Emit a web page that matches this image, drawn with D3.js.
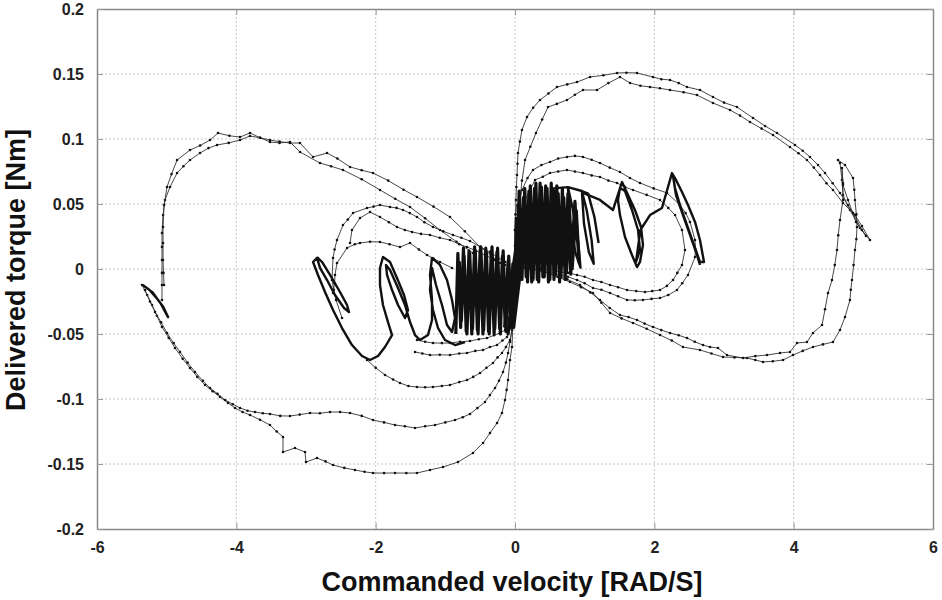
<!DOCTYPE html>
<html><head><meta charset="utf-8">
<script src="https://cdn.jsdelivr.net/npm/d3@7"></script>
<style>body{margin:0;background:#fff}</style>
</head><body><svg id="c" width="942" height="600"></svg>
<script>
const xTicks=[-6,-4,-2,0,2,4,6];
const xTickLabels=["-6","-4","-2","0","2","4","6"];
const yTicks=[-0.2,-0.15,-0.1,-0.05,0,0.05,0.1,0.15,0.2];
const yTickLabels=["-0.2","-0.15","-0.1","-0.05","0","0.05","0.1","0.15","0.2"];
const xTitle="Commanded velocity [RAD/S]";
const yTitle="Delivered torque [Nm]";

// upper-left big loop, two passes
const upperLeftA=[[-0.215,0.0046],[-0.35,0.011],[-0.502,0.0169],[-0.72,0.029],[-0.933,0.040],[-1.17,0.048],[-1.407,0.0554],[-1.6,0.061],[-1.82,0.068],[-2.038,0.0738],[-2.2,0.076],[-2.368,0.0785],[-2.55,0.085],[-2.698,0.0892],[-2.899,0.0862],[-3.086,0.0969],[-3.23,0.0969],[-3.38,0.098],[-3.517,0.0992],[-3.66,0.101],[-3.804,0.1023],[-3.947,0.0992],[-4.11,0.097],[-4.277,0.0954],[-4.4,0.093],[-4.521,0.0892],[-4.665,0.0838],[-4.76,0.079],[-4.851,0.0738],[-4.952,0.0631],[-5.024,0.0531],[-5.052,0.0415],[-5.067,0.0277],[-5.067,0.017],[-5.067,0.0069],[-5.067,-0.003],[-5.067,-0.0123],[-5.067,-0.0238]];
const upperLeftB=[[-0.603,0.0123],[-0.84,0.021],[-1.077,0.030],[-1.29,0.039],[-1.507,0.0477],[-1.72,0.054],[-1.938,0.0608],[-2.2,0.069],[-2.469,0.0762],[-2.64,0.079],[-2.799,0.0815],[-3.086,0.090],[-3.23,0.0977],[-3.38,0.097],[-3.517,0.0977],[-3.66,0.101],[-3.804,0.1046],[-3.947,0.1015],[-4.1,0.1025],[-4.263,0.1046],[-4.378,0.0992],[-4.52,0.095],[-4.665,0.0915],[-4.851,0.0838],[-4.93,0.073],[-4.995,0.0631],[-5.038,0.0492],[-5.052,0.0323],[-5.052,0.02],[-5.052,0.0069],[-5.045,-0.003],[-5.038,-0.0123]];
const leftTail=[[-5.35,-0.012],[-5.25,-0.016],[-5.15,-0.022],[-5.05,-0.029],[-4.98,-0.037],[-5.08,-0.027],[-5.2,-0.018],[-5.33,-0.013]];
// lower-left curves returning to the centre
const lowerLeft1=[[-5.354,-0.0123],[-5.28,-0.02],[-5.21,-0.0277],[-5.14,-0.036],[-5.067,-0.0446],[-4.97,-0.053],[-4.88,-0.0608],[-4.77,-0.069],[-4.665,-0.0762],[-4.56,-0.083],[-4.45,-0.0892],[-4.34,-0.094],[-4.234,-0.0985],[-4.12,-0.103],[-4.019,-0.1069],[-3.91,-0.11],[-3.804,-0.1123],[-3.66,-0.116],[-3.517,-0.12],[-3.42,-0.125],[-3.33,-0.1292],[-3.33,-0.1408],[-3.158,-0.1377],[-3.014,-0.1408],[-3.0,-0.1485],[-2.842,-0.1454],[-2.72,-0.148],[-2.612,-0.1508],[-2.45,-0.153],[-2.297,-0.1546],[-2.16,-0.156],[-2.038,-0.1569],[-1.88,-0.157],[-1.722,-0.1569],[-1.56,-0.157],[-1.407,-0.1569],[-1.22,-0.1546],[-1.033,-0.1523],[-0.818,-0.1485],[-0.603,-0.1415],[-0.459,-0.1338],[-0.359,-0.1262],[-0.258,-0.1185],[-0.187,-0.1108],[-0.144,-0.1008],[-0.12,-0.093],[-0.10,-0.0854],[-0.072,-0.07],[-0.043,-0.06],[-0.029,-0.0415],[-0.014,-0.0238],[0,-0.0085]];
const lowerLeft2=[[-5.311,-0.0162],[-5.24,-0.025],[-5.167,-0.0331],[-5.08,-0.041],[-4.995,-0.0492],[-4.9,-0.057],[-4.808,-0.0638],[-4.7,-0.072],[-4.593,-0.0792],[-4.48,-0.086],[-4.378,-0.0915],[-4.27,-0.096],[-4.162,-0.1008],[-4.05,-0.104],[-3.947,-0.1069],[-3.84,-0.109],[-3.732,-0.11],[-3.62,-0.111],[-3.517,-0.1115],[-3.37,-0.113],[-3.23,-0.1131],[-3.09,-0.112],[-2.942,-0.1108],[-2.8,-0.111],[-2.655,-0.11],[-2.51,-0.110],[-2.368,-0.1108],[-2.2,-0.113],[-2.038,-0.1162],[-1.88,-0.118],[-1.722,-0.12],[-1.58,-0.121],[-1.435,-0.1223],[-1.29,-0.121],[-1.148,-0.12],[-1.0,-0.118],[-0.861,-0.1162],[-0.75,-0.114],[-0.646,-0.1115],[-0.54,-0.107],[-0.431,-0.1023],[-0.36,-0.097],[-0.287,-0.0915],[-0.23,-0.086],[-0.172,-0.0792],[-0.13,-0.072],[-0.10,-0.0646],[-0.07,-0.056],[-0.043,-0.0469],[-0.014,-0.0277],[0,-0.0123]];
const lowerLeft3=[[-2.124,-0.07],[-2.0,-0.076],[-1.866,-0.0815],[-1.75,-0.085],[-1.651,-0.0877],[-1.53,-0.09],[-1.407,-0.0908],[-1.29,-0.091],[-1.177,-0.0908],[-1.05,-0.09],[-0.933,-0.0892],[-0.8,-0.087],[-0.689,-0.0854],[-0.6,-0.083],[-0.502,-0.08],[-0.41,-0.076],[-0.316,-0.0723],[-0.25,-0.068],[-0.187,-0.0646],[-0.13,-0.06],[-0.072,-0.0546],[-0.029,-0.0431],[0,-0.0238]];
const lowerLeft4=[[-1.435,-0.0638],[-1.33,-0.065],[-1.22,-0.0662],[-1.08,-0.066],[-0.933,-0.0662],[-0.8,-0.065],[-0.689,-0.0646],[-0.57,-0.063],[-0.459,-0.0623],[-0.36,-0.06],[-0.258,-0.0585],[-0.18,-0.055],[-0.115,-0.0523],[-0.043,-0.0431]];
const lowerLeft5=[[-1.407,-0.0546],[-1.29,-0.056],[-1.177,-0.0569],[-1.05,-0.057],[-0.933,-0.0569],[-0.79,-0.056],[-0.646,-0.0554],[-0.52,-0.054],[-0.402,-0.0531],[-0.3,-0.051],[-0.215,-0.0492],[-0.14,-0.047],[-0.072,-0.0446],[-0.029,-0.0354]];
// dotted rings around the left cluster
const leftRing1=[[-0.144,0.0054],[-0.25,0.009],[-0.359,0.0131],[-0.5,0.017],[-0.646,0.0215],[-0.77,0.024],[-0.89,0.0262],[-1.03,0.029],[-1.177,0.0323],[-1.3,0.036],[-1.407,0.040],[-1.51,0.043],[-1.608,0.0454],[-1.7,0.047],[-1.794,0.0477],[-1.938,0.0492],[-2.03,0.048],[-2.124,0.0469],[-2.325,0.0431],[-2.4,0.038],[-2.469,0.0338],[-2.555,0.0223],[-2.59,0.015],[-2.612,0.0085],[-2.627,-0.0085],[-2.6,-0.016],[-2.569,-0.0238],[-2.483,-0.0377]];
const leftRing2=[[-2.612,-0.0185],[-2.59,-0.011],[-2.584,-0.0046],[-2.555,0.0046],[-2.411,0.0162],[-2.3,0.019],[-2.225,0.020],[-2.08,0.021],[-1.938,0.0208],[-1.8,0.019],[-1.651,0.0169],[-1.507,0.020],[-1.38,0.015],[-1.263,0.0108],[-1.17,0.008],[-1.077,0.0054],[-0.904,0.0008]];
const leftRing3=[[-2.368,0.020],[-2.34,0.030],[-2.225,0.0392],[-2.081,0.0438],[-1.938,0.040],[-1.81,0.036],[-1.694,0.0323],[-1.58,0.030],[-1.478,0.0285],[-1.35,0.027],[-1.22,0.0262],[-1.08,0.024],[-0.933,0.0223],[-0.8,0.019],[-0.689,0.0169],[-0.56,0.014],[-0.431,0.0108],[-0.29,0.007],[-0.144,0.0031]];
// solid small loops on the left
const leftLoops=[[-2.842,0.0092],[-2.77,0.0054],[-2.655,-0.0046],[-2.512,-0.0177],[-2.411,-0.0277],[-2.383,-0.0331],[-2.454,-0.03],[-2.584,-0.02],[-2.698,-0.0085],[-2.799,0.0008],[-2.842,0.0085],[-2.899,0.0054],[-2.828,-0.0046],[-2.727,-0.0177],[-2.612,-0.0315],[-2.483,-0.0454],[-2.34,-0.0585],[-2.196,-0.0669],[-2.081,-0.07],[-1.966,-0.0669],[-1.866,-0.06],[-1.765,-0.0508],[-1.823,-0.0408],[-1.895,-0.0277],[-1.938,-0.0123],[-1.938,0.0008],[-1.895,0.0092],[-1.794,0.0054],[-1.694,-0.0069],[-1.593,-0.02],[-1.536,-0.0315],[-1.579,-0.0377],[-1.679,-0.0277],[-1.765,-0.0162],[-1.837,-0.0046],[-1.852,0.0031],[-1.794,-0.0008],[-1.679,-0.0146],[-1.579,-0.0277],[-1.507,-0.0408],[-1.435,-0.0508],[-1.364,-0.0546],[-1.249,-0.0508],[-1.191,-0.0392],[-1.191,-0.0238],[-1.22,-0.0046],[-1.191,0.0085],[-1.077,0.0031],[-0.976,-0.0085],[-0.904,-0.0238],[-0.861,-0.0377],[-0.904,-0.0485],[-0.976,-0.0431],[-1.048,-0.0277],[-1.134,-0.0123],[-1.191,0.0008],[-1.22,-0.0162],[-1.177,-0.0315],[-1.105,-0.0454],[-1.005,-0.0546],[-0.861,-0.0585],[-0.718,-0.0562]];
// dense oscillation clusters
const leftBlob=[[-0.85,-0.05],[-0.82,0.012],[-0.78,-0.045],[-0.74,0.016],[-0.70,-0.048],[-0.66,0.014],[-0.62,-0.05],[-0.58,0.017],[-0.54,-0.047],[-0.50,0.015],[-0.46,-0.05],[-0.42,0.016],[-0.38,-0.048],[-0.34,0.014],[-0.30,-0.05],[-0.26,0.013],[-0.22,-0.046],[-0.18,0.01],[-0.14,-0.044],[-0.10,0.006],[-0.06,-0.04],[-0.03,0.004],[-0.01,-0.03],[-0.05,-0.045],[-0.09,0.01],[-0.13,-0.048],[-0.17,0.014],[-0.21,-0.05],[-0.25,0.016],[-0.29,-0.046],[-0.33,0.017],[-0.37,-0.05],[-0.41,0.013],[-0.45,-0.047],[-0.49,0.017],[-0.53,-0.05],[-0.57,0.014],[-0.61,-0.046],[-0.65,0.012],[-0.69,-0.05],[-0.73,0.01],[-0.77,-0.04],[-0.80,0.006]];
const centreBlob=[[-0.15,-0.045],[0.05,0.03],[-0.1,-0.05],[0.1,0.035],[-0.05,-0.04],[0.15,0.03],[-0.02,-0.045],[0.02,0.04]];
const rightBlob=[[0.02,-0.005],[0.06,0.06],[0.1,-0.008],[0.14,0.062],[0.18,-0.01],[0.22,0.064],[0.26,-0.008],[0.3,0.066],[0.34,-0.01],[0.38,0.063],[0.42,-0.006],[0.46,0.062],[0.5,-0.008],[0.54,0.06],[0.58,-0.004],[0.62,0.058],[0.66,-0.006],[0.70,0.055],[0.74,-0.002],[0.78,0.05],[0.82,0.0],[0.88,0.045],[0.92,0.005],[0.86,0.052],[0.80,-0.004],[0.76,0.058],[0.72,-0.008],[0.68,0.062],[0.64,-0.01],[0.60,0.064],[0.56,-0.008],[0.52,0.066],[0.48,-0.01],[0.44,0.064],[0.40,-0.006],[0.36,0.066],[0.32,-0.008],[0.28,0.062],[0.24,-0.01],[0.2,0.06],[0.16,-0.006],[0.12,0.055],[0.08,-0.004],[0.04,0.05]];
const rightBlobLoops=[[0.55,0.062],[0.62,0.046],[0.7,0.02],[0.73,0.0],[0.66,0.01],[0.58,0.035],[0.55,0.062],[0.76,0.063],[0.83,0.046],[0.91,0.02],[0.94,0.001],[0.87,0.012],[0.79,0.036],[0.76,0.063],[0.96,0.06],[1.03,0.045],[1.1,0.022],[1.13,0.004],[1.06,0.013],[0.99,0.035],[0.96,0.06],[1.05,0.058],[1.14,0.04],[1.2,0.02]];
// solid loops on the right
const rightLoops=[[0.976,0.0585],[1.22,0.0531],[1.407,0.0454],[1.536,0.0669],[1.622,0.0569],[1.722,0.0454],[1.809,0.0323],[1.837,0.0185],[1.794,0.0054],[1.751,0.0015],[1.679,0.0108],[1.579,0.0246],[1.507,0.0415],[1.478,0.0531],[1.507,0.0623],[1.579,0.06],[1.679,0.0454],[1.766,0.03],[1.794,0.0146],[1.737,0.0054],[1.8,0.03],[1.938,0.0415],[2.11,0.0469],[2.253,0.0738],[2.311,0.0685],[2.397,0.0592],[2.483,0.0492],[2.584,0.0362],[2.655,0.0223],[2.713,0.0054],[2.655,0.0054],[2.569,0.0185],[2.469,0.0338],[2.368,0.0492],[2.297,0.0623],[2.268,0.0715],[2.311,0.0569],[2.411,0.0415],[2.512,0.0262],[2.612,0.0108],[2.655,0.0031]];
const rightRing1=[[0,0.030],[0.05,0.046],[0.10,0.0608],[0.18,0.07],[0.258,0.0762],[0.38,0.08],[0.502,0.0823],[0.62,0.085],[0.746,0.0862],[0.86,0.087],[0.976,0.0862],[1.1,0.084],[1.22,0.0815],[1.36,0.078],[1.507,0.0746],[1.65,0.07],[1.794,0.0662],[1.99,0.062],[2.182,0.0585],[2.368,0.0492],[2.45,0.043],[2.512,0.0362],[2.584,0.0223],[2.59,0.015],[2.584,0.0092],[2.483,-0.0046],[2.4,-0.011],[2.325,-0.0162],[2.2,-0.02],[2.081,-0.0223],[1.96,-0.023],[1.837,-0.0238],[1.72,-0.024],[1.608,-0.0238],[1.48,-0.021],[1.364,-0.0185],[1.24,-0.016],[1.12,-0.0146],[1.0,-0.011],[0.89,-0.0085],[0.76,-0.006],[0.646,-0.0046],[0.5,-0.002],[0.359,-0.0008],[0.072,0.0008]];
const rightRing2=[[0.029,0.0223],[0.08,0.038],[0.144,0.0531],[0.287,0.0685],[0.4,0.071],[0.502,0.0738],[0.62,0.075],[0.746,0.0762],[0.86,0.075],[0.976,0.0738],[1.1,0.072],[1.22,0.0708],[1.34,0.068],[1.464,0.0662],[1.58,0.063],[1.694,0.0608],[1.89,0.057],[2.081,0.0531],[2.2,0.047],[2.297,0.0415],[2.397,0.030],[2.44,0.0146],[2.397,0.0031],[2.33,-0.003],[2.268,-0.0085],[2.18,-0.013],[2.081,-0.0162],[1.97,-0.017],[1.866,-0.0177],[1.74,-0.017],[1.608,-0.0162],[1.48,-0.014],[1.364,-0.0123],[1.24,-0.01],[1.12,-0.0085],[1.0,-0.006],[0.89,-0.0046],[0.76,-0.003],[0.646,-0.0023],[0.5,-0.0005],[0.359,0.0008]];
// upper-right big loop, two passes
const upperRightA=[[0,0.0069],[0,0.018],[0,0.030],[0.007,0.042],[0.014,0.0531],[0.02,0.063],[0.029,0.0723],[0.036,0.081],[0.043,0.0892],[0.07,0.098],[0.10,0.1069],[0.172,0.1169],[0.26,0.124],[0.359,0.130],[0.48,0.135],[0.603,0.140],[0.75,0.142],[0.89,0.1438],[1.077,0.1477],[1.27,0.149],[1.464,0.1508],[1.6,0.151],[1.751,0.1508],[1.981,0.1477],[2.1,0.146],[2.225,0.1454],[2.35,0.143],[2.469,0.140],[2.655,0.1377],[2.842,0.1323],[3.0,0.128],[3.186,0.1246],[3.416,0.1162],[3.59,0.11],[3.761,0.1046],[4.019,0.0954],[4.13,0.091],[4.234,0.0862],[4.35,0.08],[4.45,0.0738],[4.56,0.066],[4.665,0.0585],[4.78,0.049],[4.88,0.0415],[4.98,0.033],[5.095,0.0223],[4.952,0.0315],[4.808,0.0454],[4.708,0.0569],[4.694,0.0685],[4.665,0.0815],[4.636,0.0838],[4.737,0.080],[4.852,0.070],[4.87,0.061],[4.88,0.0531],[4.9,0.042],[4.909,0.0323],[4.9,0.023],[4.88,0.0146],[4.86,0.003],[4.837,-0.0085],[4.82,-0.016],[4.808,-0.0238],[4.737,-0.0369],[4.665,-0.0469],[4.564,-0.0562],[4.42,-0.058],[4.277,-0.060],[4.13,-0.063],[3.99,-0.0662],[3.847,-0.070],[3.7,-0.071],[3.56,-0.0715],[3.45,-0.07],[3.33,-0.0685],[3.15,-0.068],[2.986,-0.0677],[2.82,-0.065],[2.655,-0.0623],[2.411,-0.060],[2.25,-0.055],[2.081,-0.0508],[1.89,-0.046],[1.694,-0.0415],[1.53,-0.038],[1.364,-0.0338],[1.24,-0.026],[1.12,-0.0185],[0.95,-0.014],[0.789,-0.01],[0.61,-0.006],[0.431,-0.0023],[0.144,0.0015]];
const upperRightB=[[0.043,0.0223],[0.06,0.038],[0.072,0.0531],[0.1,0.068],[0.144,0.0838],[0.22,0.094],[0.301,0.1046],[0.39,0.115],[0.474,0.1246],[0.6,0.127],[0.746,0.130],[0.86,0.134],[0.976,0.1377],[1.177,0.1377],[1.34,0.143],[1.507,0.1477],[1.651,0.1431],[1.8,0.141],[1.938,0.140],[2.08,0.139],[2.225,0.1377],[2.42,0.136],[2.612,0.1338],[2.842,0.1277],[3.086,0.1223],[3.23,0.118],[3.373,0.1131],[3.54,0.108],[3.703,0.1031],[3.947,0.0938],[4.07,0.089],[4.191,0.0838],[4.29,0.078],[4.378,0.0723],[4.47,0.066],[4.564,0.0608],[4.708,0.0508],[4.852,0.0431],[4.98,0.030],[5.038,0.0254],[4.894,0.0362],[4.78,0.0531],[4.708,0.0646],[4.694,0.0777],[4.708,0.0662],[4.708,0.0531],[4.665,0.0377],[4.64,0.026],[4.622,0.0146],[4.59,0.003],[4.55,-0.0085],[4.493,-0.0185],[4.45,-0.031],[4.407,-0.0431],[4.277,-0.0492],[4.191,-0.0562],[4.048,-0.0569],[3.947,-0.0638],[3.804,-0.0646],[3.617,-0.0662],[3.45,-0.067],[3.273,-0.0685],[3.043,-0.0662],[2.914,-0.0608],[2.799,-0.060],[2.698,-0.0585],[2.58,-0.056],[2.469,-0.0531],[2.35,-0.051],[2.225,-0.0492],[2.1,-0.047],[1.981,-0.0446],[1.86,-0.042],[1.751,-0.0392],[1.63,-0.037],[1.507,-0.0354],[1.36,-0.03],[1.22,-0.0238],[1.08,-0.018],[0.933,-0.0123],[0.75,-0.008],[0.574,-0.0046],[0.4,-0.002],[0.215,0.0008]];

const dottedTraces=[upperLeftA,upperLeftB,lowerLeft1,lowerLeft2,lowerLeft3,lowerLeft4,lowerLeft5,leftRing1,leftRing2,leftRing3,rightRing1,rightRing2,upperRightA,upperRightB];
const solidTraces=[leftLoops,rightLoops,leftTail,rightBlobLoops];
const blobTraces=[leftBlob,centreBlob,rightBlob];

const svg=d3.select("#c");
const x=d3.scaleLinear().domain([-6,6]).range([97,933]);
const y=d3.scaleLinear().domain([-0.2,0.2]).range([529,9]);

// grid
const g=svg.append("g");
g.selectAll("line.gx").data(xTicks.slice(1,-1)).enter().append("line")
 .attr("x1",d=>x(d)).attr("x2",d=>x(d)).attr("y1",y(0.2)).attr("y2",y(-0.2))
 .attr("stroke","#c8c8c8").attr("stroke-width",1).attr("stroke-dasharray","2,2");
g.selectAll("line.gy").data(yTicks.slice(1,-1)).enter().append("line")
 .attr("y1",d=>y(d)).attr("y2",d=>y(d)).attr("x1",x(-6)).attr("x2",x(6))
 .attr("stroke","#c8c8c8").attr("stroke-width",1).attr("stroke-dasharray","2,2");

// traces
const line=d3.line().x(d=>x(d[0])).y(d=>y(d[1]));
const tr=svg.append("g");
dottedTraces.forEach(t=>{
  tr.append("path").attr("d",line(t)).attr("fill","none").attr("stroke","#333").attr("stroke-width",0.9);
  tr.selectAll(null).data(t).enter().append("circle")
    .attr("cx",d=>x(d[0])).attr("cy",d=>y(d[1])).attr("r",1.3).attr("fill","#111");
});
solidTraces.forEach(t=>{
  tr.append("path").attr("d",line(t)).attr("fill","none").attr("stroke","#111")
    .attr("stroke-width",2.4).attr("stroke-linejoin","round");
});
blobTraces.forEach(t=>{
  tr.append("path").attr("d",line(t)).attr("fill","none").attr("stroke","#111")
    .attr("stroke-width",3.2).attr("stroke-linejoin","round");
});

// frame & axes
const fmtX=(d,i)=>xTickLabels[i], fmtY=(d,i)=>yTickLabels[i];
const axStyle=sel=>{
  sel.select(".domain").attr("stroke","#888").attr("stroke-width",1.5);
  sel.selectAll(".tick line").attr("stroke","#999");
  sel.selectAll("text").attr("font-family","'Liberation Sans',Arial,sans-serif")
    .attr("font-weight","bold").attr("font-size",16).attr("fill","#222");
};
svg.append("g").attr("transform",`translate(0,${y(-0.2)})`)
 .call(d3.axisBottom(x).tickValues(xTicks).tickFormat(fmtX).tickSize(-6).tickSizeOuter(0).tickPadding(13)).call(axStyle);
svg.append("g").attr("transform",`translate(0,${y(0.2)})`)
 .call(d3.axisTop(x).tickValues(xTicks).tickFormat("").tickSize(-6).tickSizeOuter(0)).call(axStyle);
svg.append("g").attr("transform",`translate(${x(-6)},0)`)
 .call(d3.axisLeft(y).tickValues(yTicks).tickFormat(fmtY).tickSize(-6).tickSizeOuter(0).tickPadding(13)).call(axStyle);
svg.append("g").attr("transform",`translate(${x(6)},0)`)
 .call(d3.axisRight(y).tickValues(yTicks).tickFormat("").tickSize(-6).tickSizeOuter(0)).call(axStyle);

// titles
svg.append("text").attr("x",512).attr("y",591).attr("text-anchor","middle")
 .attr("font-family","'Liberation Sans',Arial,sans-serif").attr("font-weight","bold")
 .attr("font-size",27).attr("fill","#111").text(xTitle);
svg.append("text").attr("transform","translate(25,270) rotate(-90)").attr("text-anchor","middle")
 .attr("font-family","'Liberation Sans',Arial,sans-serif").attr("font-weight","bold")
 .attr("font-size",27).attr("fill","#111").text(yTitle);
</script></body></html>
